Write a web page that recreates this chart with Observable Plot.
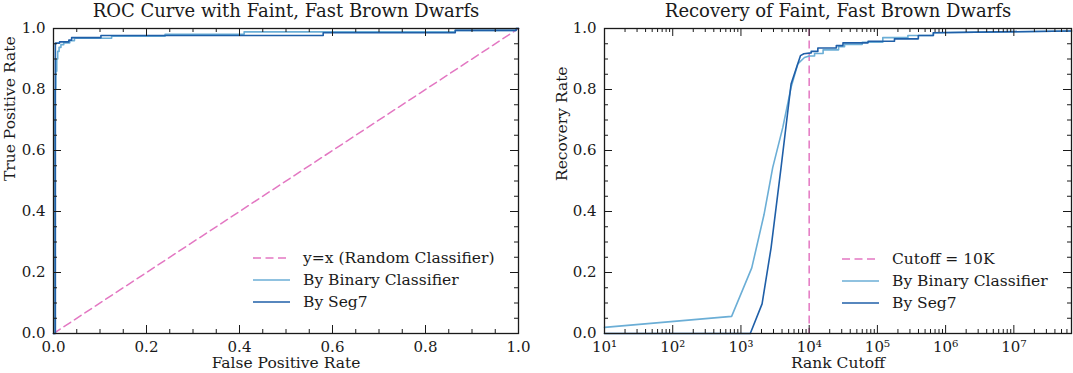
<!DOCTYPE html>
<html>
<head>
<meta charset="utf-8">
<script src="https://cdn.jsdelivr.net/npm/d3@7"></script>
<script src="https://cdn.jsdelivr.net/npm/@observablehq/plot@0.6"></script>
<style>
  html, body { margin: 0; padding: 0; background: #fff; }
  #wrap { position: relative; width: 1073px; height: 373px; display: flex; font-family: "DejaVu Serif", serif; color: #1a1a1a; }
  .panel { position: relative; }
  .legend { position: absolute; font-size: 15.5px; line-height: 22px; }
  .legend .row { display: flex; align-items: center; height: 22px; white-space: nowrap; }
  .legend svg { display: block; margin-right: 13px; }
</style>
</head>
<body>
<div id="wrap">
  <div class="panel" id="left" style="width:540px"></div>
  <div class="panel" id="right" style="width:533px"></div>
</div>
<script>
// ---------- data ----------
const leftTitle = "ROC Curve with Faint, Fast Brown Dwarfs";
const rightTitle = "Recovery of Faint, Fast Brown Dwarfs";
const leftXLabel = "False Positive Rate";
const leftYLabel = "True Positive Rate";
const rightXLabel = "Rank Cutoff";
const rightYLabel = "Recovery Rate";

const leftLegend = ["y=x (Random Classifier)", "By Binary Classifier", "By Seg7"];
const rightLegend = ["Cutoff = 10K", "By Binary Classifier", "By Seg7"];

// ROC: random classifier diagonal
const diagX = [0, 1];
const diagY = [0, 1];

// ROC: binary classifier (step-after corners)
const rocBinFpr = [0, 0.003, 0.005, 0.007, 0.009, 0.012, 0.016, 0.022, 0.035, 0.045, 0.125, 0.24, 0.41, 0.864, 0.995, 1];
const rocBinTpr = [0, 0.80, 0.86, 0.90, 0.925, 0.938, 0.947, 0.953, 0.960, 0.968, 0.975, 0.981, 0.989, 0.994, 1.0, 1.0];

// ROC: Seg7 (step-after corners)
const rocSegFpr = [0, 0.004, 0.013, 0.033, 0.039, 0.102, 0.58, 0.864, 0.995, 1];
const rocSegTpr = [0, 0.952, 0.956, 0.962, 0.970, 0.977, 0.986, 0.994, 1.0, 1.0];

// Recovery vs rank cutoff: binary classifier
const recBinRank = [10, 730, 1440, 2180, 2920, 4100, 5430, 6820, 8530, 10000, 12000, 12000, 16000, 16000, 27000, 27000, 33000, 33000, 60000, 60000, 120000, 120000, 280000, 280000, 661000, 661000, 7e7];
const recBinRate = [0.02, 0.056, 0.215, 0.39, 0.544, 0.675, 0.807, 0.884, 0.905, 0.91, 0.91, 0.918, 0.918, 0.93, 0.93, 0.94, 0.94, 0.948, 0.948, 0.955, 0.955, 0.97, 0.97, 0.977, 0.977, 0.986, 0.992];

// Recovery vs rank cutoff: Seg7
const recSegRank = [10, 1370, 2040, 2760, 3870, 5430, 7450, 8360, 10700, 10700, 13400, 13400, 25000, 25000, 31300, 31300, 73000, 73000, 178000, 178000, 398000, 398000, 661000, 661000, 7e7];
const recSegRate = [0, 0, 0.097, 0.28, 0.544, 0.818, 0.911, 0.917, 0.920, 0.925, 0.925, 0.936, 0.936, 0.944, 0.944, 0.953, 0.953, 0.958, 0.958, 0.966, 0.966, 0.977, 0.977, 0.986, 0.992];

const cutoff = [10000];

// tick values
const linMajor = [0, 0.2, 0.4, 0.6, 0.8, 1.0];
const linMinor = d3.range(0, 21).map(i => i * 0.05).filter(v => Math.abs(v * 5 - Math.round(v * 5)) > 1e-6);
const logMajor = [1e1, 1e2, 1e3, 1e4, 1e5, 1e6, 1e7];
const logMinor = [];
for (let d = 1; d <= 7; d++) for (let k = 2; k <= 9; k++) logMinor.push(k * Math.pow(10, d));

// ---------- style ----------
const pink = "#e377c2";
const light = "#6baed6";
const dark = "#1f5fa8";
const ink = "#1a1a1a";
const dash = "8,4.5";
const font = "DejaVu Serif";
const H = 373, MT = 28, MB = 40;
const frameH = H - MT - MB;
const majorLen = 8, minorLen = 4;

const pts = (xs, ys) => xs.map((x, i) => ({x, y: ys[i]}));
const sup = n => String(n).split("").map(c => "⁰¹²³⁴⁵⁶⁷⁸⁹"[+c]).join("");

function tickMarks(xMaj, xMin, frameW) {
  const r = [];
  for (const [vals, len] of [[xMaj, majorLen], [xMin, minorLen]]) {
    r.push(Plot.ruleX(vals, {x: d => d, stroke: ink, strokeWidth: 1, insetTop: frameH - len}));
    r.push(Plot.ruleX(vals, {x: d => d, stroke: ink, strokeWidth: 1, insetBottom: frameH - len}));
  }
  for (const [vals, len] of [[linMajor, majorLen], [linMinor, minorLen]]) {
    r.push(Plot.ruleY(vals, {y: d => d, stroke: ink, strokeWidth: 1, insetRight: frameW - len}));
    r.push(Plot.ruleY(vals, {y: d => d, stroke: ink, strokeWidth: 1, insetLeft: frameW - len}));
  }
  return r;
}

function labels(title, xl, yl, ydx) {
  return [
    Plot.text([title], {text: d => d, frameAnchor: "top", lineAnchor: "middle", dy: -17, fontSize: 18, fill: ink}),
    Plot.text([xl], {text: d => d, frameAnchor: "bottom", lineAnchor: "middle", dy: 30, fontSize: 15.5, fill: ink}),
    Plot.text([yl], {text: d => d, frameAnchor: "left", lineAnchor: "middle", rotate: -90, dx: ydx, fontSize: 15.5, fill: ink})
  ];
}

// ---------- left panel ----------
const LW = 540, LML = 53, LMR = 22;
const leftPlot = Plot.plot({
  width: LW, height: H,
  marginTop: MT, marginBottom: MB, marginLeft: LML, marginRight: LMR,
  style: {fontFamily: font, fontSize: "15px", color: ink, background: "white"},
  x: {domain: [0, 1]},
  y: {domain: [0, 1]},
  marks: [
    Plot.line(pts(diagX, diagY), {x: "x", y: "y", stroke: pink, strokeWidth: 1.5, strokeDasharray: dash}),
    Plot.line(pts(rocBinFpr, rocBinTpr), {x: "x", y: "y", stroke: light, strokeWidth: 1.6, curve: "step-after"}),
    Plot.line(pts(rocSegFpr, rocSegTpr), {x: "x", y: "y", stroke: dark, strokeWidth: 1.6, curve: "step-after"}),
    ...tickMarks(linMajor, linMinor, LW - LML - LMR),
    Plot.frame({stroke: ink, strokeWidth: 1.3}),
    Plot.axisX({ticks: linMajor, tickSize: 0, tickPadding: 8, tickFormat: d3.format(".1f"), label: null, fill: ink, fontSize: 15}),
    Plot.axisY({ticks: linMajor, tickSize: 0, tickPadding: 8, tickFormat: d3.format(".1f"), label: null, fill: ink, fontSize: 15}),
    ...labels(leftTitle, leftXLabel, leftYLabel, -43)
  ]
});
document.getElementById("left").appendChild(leftPlot);

// ---------- right panel ----------
const RW = 533, RML = 64, RMR = 2;
const rightPlot = Plot.plot({
  width: RW, height: H,
  marginTop: MT, marginBottom: MB, marginLeft: RML, marginRight: RMR,
  style: {fontFamily: font, fontSize: "15px", color: ink, background: "white"},
  x: {type: "log", domain: [10, 7e7]},
  y: {domain: [0, 1]},
  marks: [
    Plot.ruleX(cutoff, {x: d => d, stroke: pink, strokeWidth: 1.5, strokeDasharray: dash}),
    Plot.line(pts(recBinRank, recBinRate), {x: "x", y: "y", stroke: light, strokeWidth: 1.6}),
    Plot.line(pts(recSegRank, recSegRate), {x: "x", y: "y", stroke: dark, strokeWidth: 1.6}),
    ...tickMarks(logMajor, logMinor, RW - RML - RMR),
    Plot.frame({stroke: ink, strokeWidth: 1.3}),
    Plot.axisX({ticks: logMajor, tickSize: 0, tickPadding: 8, tickFormat: d => "10" + sup(Math.round(Math.log10(d))), label: null, fill: ink, fontSize: 15}),
    Plot.axisY({ticks: linMajor, tickSize: 0, tickPadding: 8, tickFormat: d3.format(".1f"), label: null, fill: ink, fontSize: 15}),
    ...labels(rightTitle, rightXLabel, rightYLabel, -42)
  ]
});
document.getElementById("right").appendChild(rightPlot);

// ---------- legends ----------
function legend(container, items, styles, left, top) {
  const div = document.createElement("div");
  div.className = "legend";
  div.style.left = left + "px";
  div.style.top = top + "px";
  items.forEach((label, i) => {
    const row = document.createElement("div");
    row.className = "row";
    const s = styles[i];
    row.innerHTML = `<svg width="37" height="6"><line x1="0" y1="3" x2="37" y2="3" stroke="${s.stroke}" stroke-width="1.6" ${s.dash ? `stroke-dasharray="${s.dash}"` : ""}/></svg><span>${label}</span>`;
    div.appendChild(row);
  });
  container.appendChild(div);
}
const legendStyles = [{stroke: pink, dash}, {stroke: light}, {stroke: dark}];
legend(document.getElementById("left"), leftLegend, legendStyles, 253, 247);
legend(document.getElementById("right"), rightLegend, legendStyles, 842 - 540, 248);
</script>
</body>
</html>
